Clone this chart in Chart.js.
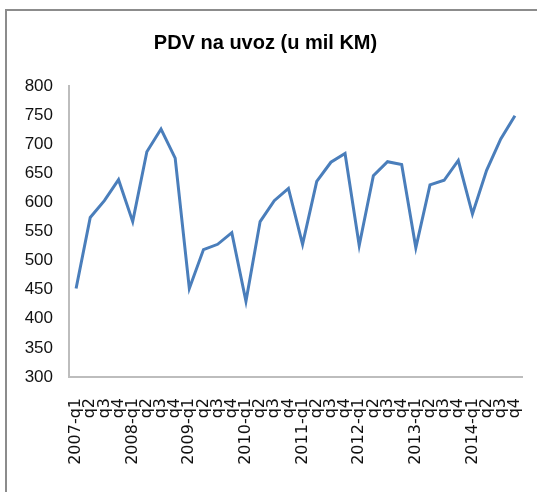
<!DOCTYPE html>
<html>
<head>
<meta charset="utf-8">
<script src="https://cdn.jsdelivr.net/npm/chart.js@4"></script>
<style>
  html, body { margin: 0; padding: 0; background: #fff; overflow: hidden; }
  #frame { position: absolute; left: 5px; top: 9px; width: 600px; height: 600px;
           border-left: 2px solid #8c8c8c; border-top: 2px solid #8c8c8c; }
  #wrap { position: absolute; left: 0; top: 0; width: 537px; height: 492px; }
</style>
</head>
<body>
<div id="frame"></div>
<div id="wrap"><canvas id="grafico"></canvas></div>
<script>
const godine = ['2007', '2008', '2009', '2010', '2011', '2012', '2013', '2014'];
const kvartali = ['q1', 'q2', 'q3', 'q4'];
const pdvUvoz = [
  452, 574, 603, 639, 567, 687, 726, 676,
  452, 519, 528, 548, 430, 567, 603, 624,
  528, 636, 669, 684, 526, 646, 670, 665,
  522, 630, 638, 672, 580, 655, 709, 749
];
const yTicks = [300, 350, 400, 450, 500, 550, 600, 650, 700, 750, 800];

// oznake: "2007-q1", "q2", "q3", "q4", "2008-q1", ...
const labels = [];
godine.forEach(g => kvartali.forEach((q, i) => labels.push(i === 0 ? g + '-' + q : q)));

const ctx = document.getElementById('grafico').getContext('2d');
new Chart(ctx, {
  type: 'line',
  data: {
    labels,
    datasets: [{
      label: 'PDV na uvoz',
      data: pdvUvoz,
      borderColor: '#4a7ebb',
      borderWidth: 3,
      pointRadius: 0,
      tension: 0,
      fill: false,
    }]
  },
  options: {
    responsive: true,
    maintainAspectRatio: false,
    animation: false,
    layout: { padding: { left: 9, right: 15, top: 0, bottom: 0 } },
    plugins: {
      legend: { display: false },
      tooltip: { enabled: false },
      title: {
        display: true,
        text: 'PDV na uvoz (u mil KM)',
        color: '#000',
        font: { family: 'Liberation Sans', size: 20, weight: 'bold' },
        padding: { top: 31, bottom: 31 }
      }
    },
    scales: {
      x: {
        offset: true,
        grid: { display: false, drawTicks: false },
        border: { display: true, color: '#bdbdbd', width: 2 },
        afterFit: s => { s.height = 115; s.paddingLeft = 0; s.paddingRight = 0; },
        ticks: {
          color: '#111',
          autoSkip: false,
          maxRotation: 90,
          minRotation: 90,
          padding: 21,
          font: { family: 'DejaVu Sans', size: 16 }
        }
      },
      y: {
        min: 300,
        max: 800,
        afterBuildTicks: axis => { axis.ticks = yTicks.map(v => ({ value: v })); },
        afterFit: s => { s.width = 60; },
        grid: { display: false, drawTicks: false },
        border: { display: true, color: '#bdbdbd', width: 2 },
        ticks: {
          color: '#111',
          padding: 16,
          font: { family: 'Liberation Sans', size: 17 }
        }
      }
    }
  }
});
</script>
</body>
</html>
